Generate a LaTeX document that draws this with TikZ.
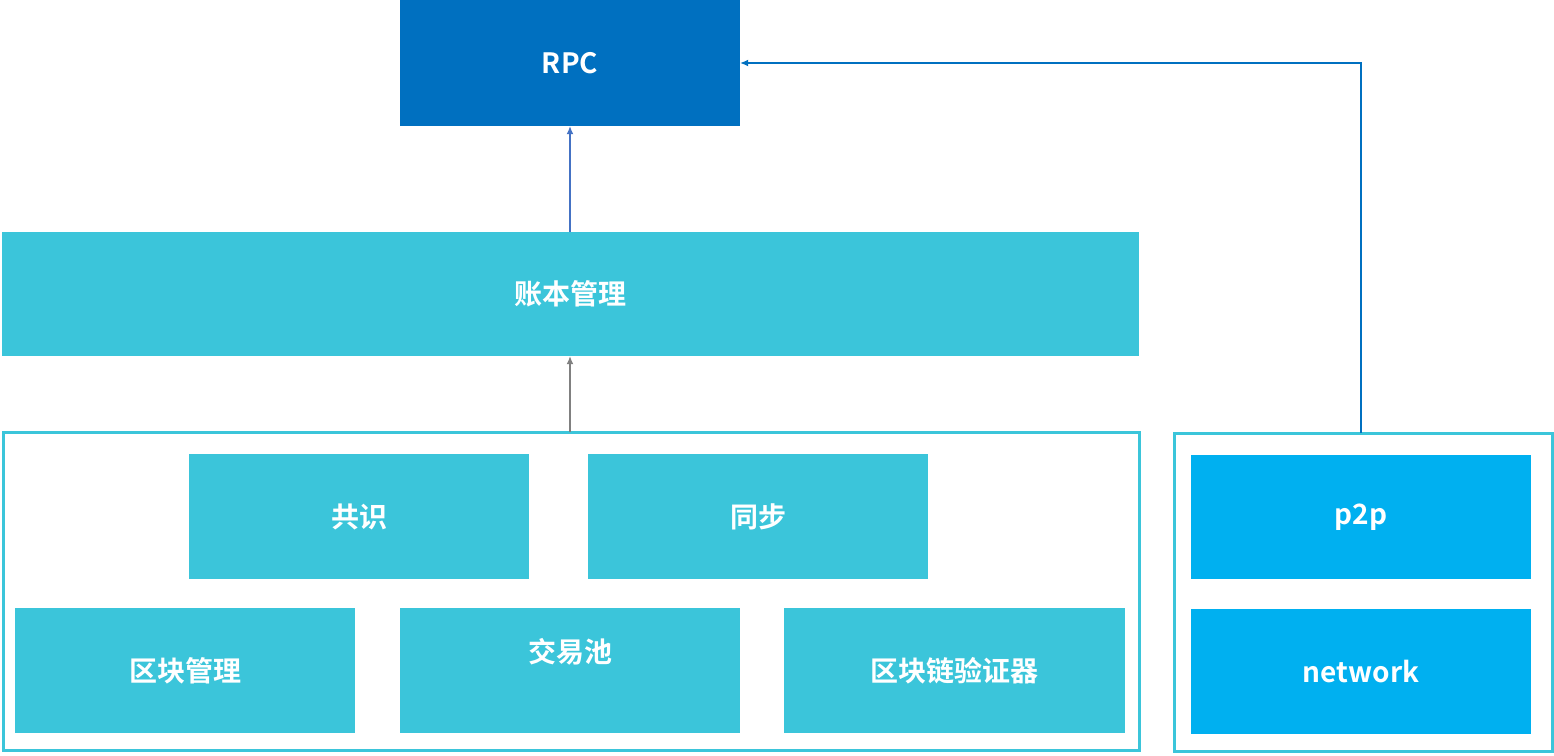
\documentclass[tikz,border=0pt]{standalone}
\usepackage{fontspec}
\setmainfont{Noto Sans CJK SC}[BoldFont={* Bold}]
\usetikzlibrary{arrows.meta}
\definecolor{rpcblue}{HTML}{0070C0}
\definecolor{modcyan}{HTML}{3BC5DA}
\definecolor{netblue}{HTML}{00B0F0}
\definecolor{lineblue}{HTML}{4472C4}

\begin{document}
\begin{tikzpicture}[x=1pt,y=-1pt,
	box/.style={fill=modcyan,draw=none,inner sep=0pt,text=white,font=\bfseries\fontsize{28}{32}\selectfont},
	frame/.style={draw=modcyan,line width=3pt,fill=none},
	link/.style={-{Latex[length=8pt,width=7pt]},line width=1.2pt}]
	\useasboundingbox (0,0) rectangle (1554,755);

	% top layers
	\node[box,fill=rpcblue,minimum width=340,minimum height=126] (rpc) at (570,63) {RPC};
	\node[box,minimum width=1137,minimum height=124] (ledger) at (570.5,294) {账本管理};

	% core modules
	\draw[frame] (3,432) rectangle (1139,750);
	\coordinate (core) at (570,432);
	\node[box,minimum width=340,minimum height=125] (consensus) at (359,516.5) {共识};
	\node[box,minimum width=340,minimum height=125] (sync) at (758,516.5) {同步};
	\node[box,minimum width=340,minimum height=125] (blockmgr) at (185,670.5) {区块管理};
	\node[box,minimum width=340,minimum height=125,text depth=40pt] (txpool) at (570,670.5) {交易池};
	\node[box,minimum width=341,minimum height=125] (validator) at (954.5,670.5) {区块链验证器};

	% network modules
	\draw[frame] (1174,433) rectangle (1552,751);
	\coordinate (net) at (1361,433);
	\node[box,fill=netblue,minimum width=340,minimum height=124] (p2p) at (1361,517) {p2p};
	\node[box,fill=netblue,minimum width=340,minimum height=125] (network) at (1361,671.5) {network};

	% connectors
	\draw[link,lineblue] (ledger.north -| rpc.south) -- (rpc.south);
	\draw[link,gray] (core) -- (ledger.south -| core);
	\draw[link,rpcblue] (net) |- (rpc.east);
\end{tikzpicture}
\end{document}
